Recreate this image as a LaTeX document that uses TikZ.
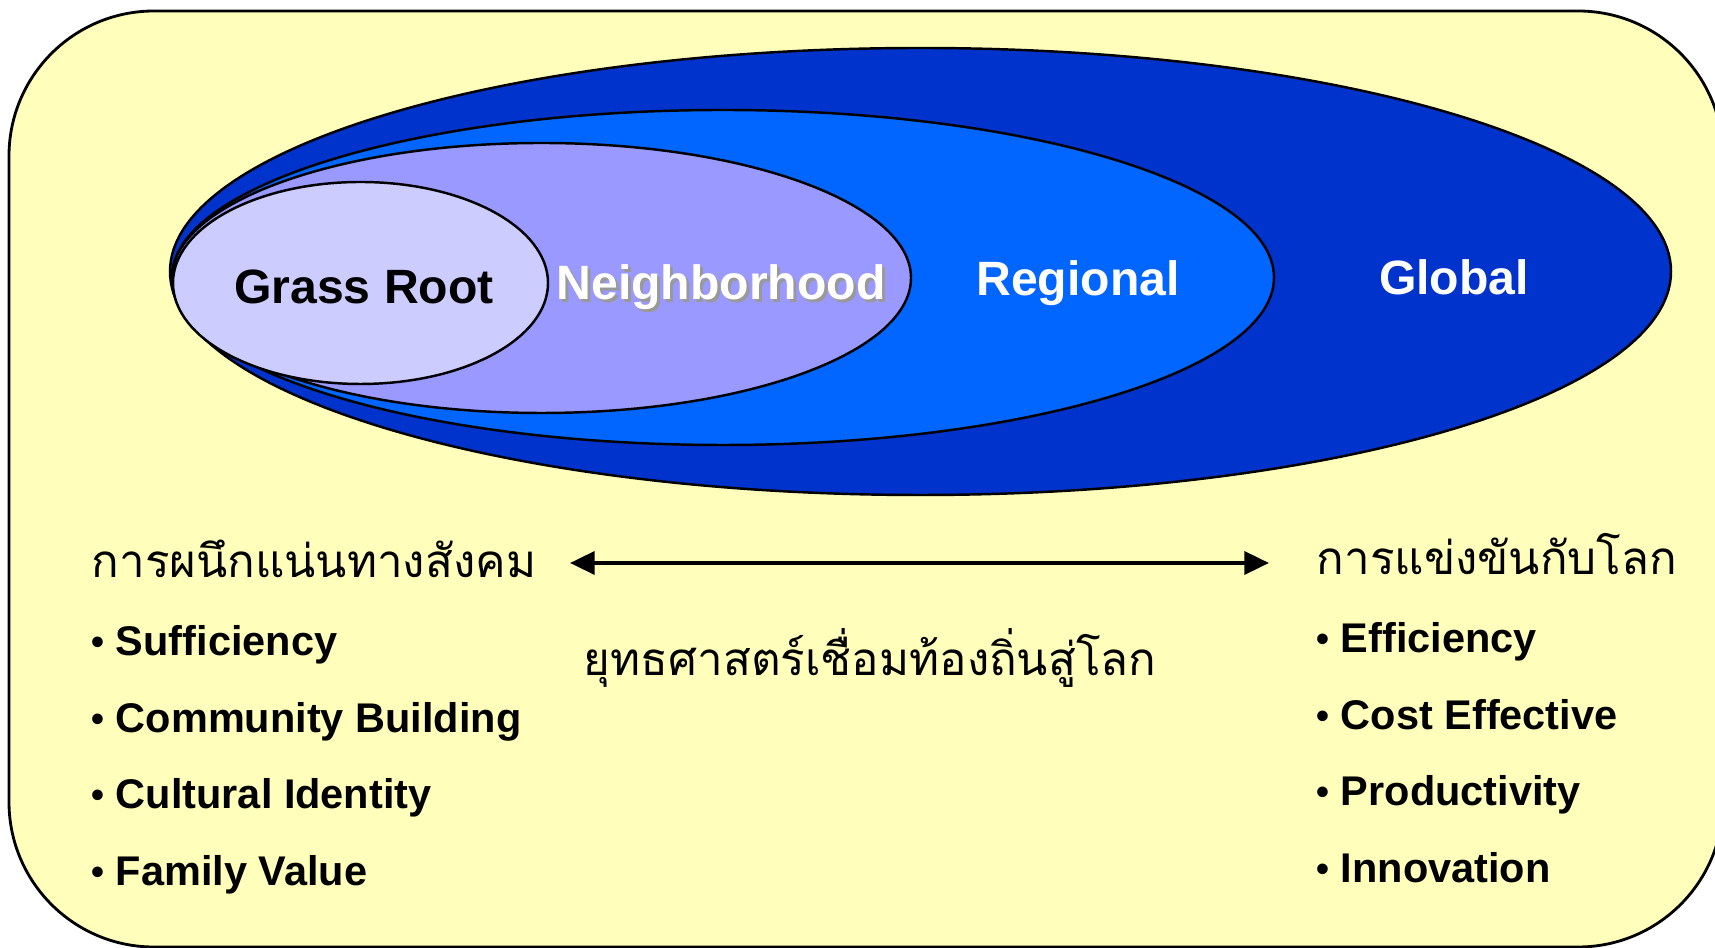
\documentclass[tikz,border=0pt]{standalone}
\usepackage{fontspec}
\setmainfont{Liberation Sans}
\newfontfamily\thaifont[Script=Thai]{Loma}
\usetikzlibrary{arrows.meta}
\definecolor{bgyellow}{HTML}{FFFFBB}
\definecolor{globalblue}{HTML}{0033CC}
\definecolor{regionblue}{HTML}{0066FF}
\definecolor{neighblue}{HTML}{9999FF}
\definecolor{grassblue}{HTML}{CCCCFF}
\newcommand{\dotitem}[1]{\raisebox{0.3pt}{\fontsize{10.5}{10}\selectfont\textbullet}\hspace{3.2pt}#1}

\begin{document}
\begin{tikzpicture}[
    ring/.style={draw=black, line width=0.7pt},
    bigtext/.style={anchor=base, inner sep=0pt, font=\fontsize{13.7}{16}\selectfont\bfseries},
    item/.style={anchor=base west, inner sep=0pt, font=\fontsize{11.8}{14}\selectfont\bfseries},
    thai/.style={anchor=base west, inner sep=0pt, font=\fontsize{13}{16}\selectfont\thaifont}]
    \useasboundingbox (0,0) rectangle (17.15,9.47);
    \draw[fill=bgyellow, line width=0.8pt, rounded corners=1.45cm] (0.09,0.0) rectangle (17.23,9.36);
    \draw[ring, fill=globalblue] (9.205,6.755) ellipse [x radius=7.505, y radius=2.235];
    \draw[ring, fill=regionblue] (7.23,6.695) ellipse [x radius=5.51, y radius=1.675];
    \draw[ring, fill=neighblue] (5.415,6.69) ellipse [x radius=3.695, y radius=1.35];
    \draw[ring, fill=grassblue] (3.605,6.64) ellipse [x radius=1.875, y radius=1.01];
    \node[bigtext] (grass) at (3.64,6.43) {Grass Root};
    \node[bigtext, text=black!40] (neighshadow) at (7.24,6.44) {Neighborhood};
    \node[bigtext, text=white] (neigh) at (7.21,6.47) {Neighborhood};
    \node[bigtext, text=white] (region) at (10.78,6.51) {Regional};
    \node[bigtext, text=white] (global) at (14.54,6.52) {Global};
    \node[thai] (social) at (0.91,3.69) {การผนึกแน่นทางสังคม};
    \node[thai] (compete) at (13.16,3.72) {การแข่งขันกับโลก};
    \node[thai] (strategy) at (5.83,2.71) {ยุทธศาสตร์เชื่อมท้องถิ่นสู่โลก};
    \coordinate (arrleft) at (5.70,3.84);
    \coordinate (arrright) at (12.69,3.84);
    \draw[line width=1.1pt, {Triangle[length=7pt, width=6.5pt]}-{Triangle[length=7pt, width=6.5pt]}] (arrleft) -- (arrright);
    \foreach \t/\y/\n in {Sufficiency/2.91/1, Community Building/2.14/2, Cultural Identity/1.38/3, Family Value/0.61/4}
        \node[item] (left\n) at (0.91,\y) {\dotitem{\t}};
    \foreach \t/\y/\n in {Efficiency/2.94/1, Cost Effective/2.17/2, Productivity/1.41/3, Innovation/0.64/4}
        \node[item] (right\n) at (13.16,\y) {\dotitem{\t}};
\end{tikzpicture}
\end{document}
